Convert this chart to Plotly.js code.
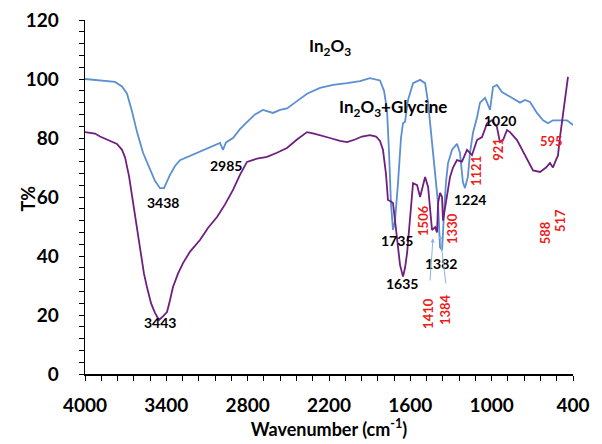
<!DOCTYPE html>
<html>
<head>
<meta charset="utf-8">
<script src="https://cdn.plot.ly/plotly-3.0.1.min.js"></script>
<style>html,body{margin:0;padding:0;background:#fff;}#chart{width:602px;height:444px;}</style>
</head>
<body>
<div id="chart"></div>
<script>
// In2O3 spectrum
const blueWn = [4000,3889,3779,3727,3690,3653,3616,3572,3520,3484,3447,3417,3373,3336,3299,3225,3152,3078,3004,2982,2960,2908,2857,2805,2746,2687,2613,2561,2510,2436,2362,2266,2170,2067,1971,1898,1824,1794,1772,1757,1743,1728,1713,1691,1669,1654,1639,1617,1580,1528,1491,1469,1440,1410,1396,1381,1366,1351,1337,1322,1292,1256,1234,1212,1197,1175,1160,1138,1108,1086,1049,1034,1012,990,961,924,887,843,791,754,717,666,621,584,548,496,444,400];
const blueT  = [100,99.5,99,97.5,95,89,82,75,69,65.5,63,63,67.5,70.5,72.5,74,75.5,77,78.3,76,78.5,80,83,85.4,88,89.5,88.5,89.5,90,92.5,95,97,98,98.6,99.3,100.3,99.5,96,89.5,75,58,48.8,52,64.7,80,85,85.5,92.9,98.6,99.7,98.6,92,78.3,65,58,43,42,55,65,71.5,76,78,75,65,63,67,75,81.7,87,92,93.6,92,89.5,97.3,98,95.6,94.6,93.6,92,92.9,92.2,88.5,86,85,86,86,86,84.4];
// In2O3 + Glycine spectrum
const purpleWn = [4000,3926,3889,3816,3764,3727,3705,3675,3646,3616,3594,3565,3543,3513,3484,3454,3425,3395,3373,3351,3314,3277,3225,3152,3093,3026,2967,2908,2857,2805,2731,2657,2584,2510,2436,2362,2310,2266,2193,2119,2067,2008,1957,1898,1853,1824,1802,1780,1765,1743,1728,1713,1691,1676,1654,1639,1624,1602,1580,1550,1528,1491,1469,1440,1417,1403,1395,1381,1366,1359,1329,1307,1285,1256,1219,1182,1145,1108,1071,1034,998,961,939,916,887,865,813,776,739,695,643,599,570,548,526,511,496,474,459,437];
const purpleT  = [82,81.5,80.5,79,78,76,73.5,67,58,49,43,34,29.5,24,20.7,18.3,19.5,21,25,29.5,34,37.6,41.5,45.4,49.5,53.2,57.5,62.4,67.5,71.9,73,73.6,75,76.6,79.5,82,81.5,81,80,79,78.6,79.5,80.5,81,80.5,79,76,68,59,58.5,58,52,43,37,33,36,41,53,64.7,64,60,66.8,63.4,48.8,49.8,48,58,61.4,60,52,60,66.8,70,72.5,72,76,74.2,79.3,80.3,85,86,83.7,78.6,79.3,82.7,82,79.3,76,73,69,68.5,70,71.5,70,72.5,74,80.3,88,94,100.7];

const seriesNames = ['In<sub>2</sub>O<sub>3</sub>', 'In<sub>2</sub>O<sub>3</sub>+Glycine'];
const xTickVals = [4000,3400,2800,2200,1600,1000,400];
const yTickVals = [0,20,40,60,80,100,120];

// peak labels (black, horizontal)
const blackLabels = ['3438','3443','2985','1735','1635','1382','1224','1020'];
const blackLabelWn = [3425,3447,2960,1698,1661,1374,1160,939];
const blackLabelT = [58.3,17.3,70.8,45.4,30.8,37.3,59,85.8];
// peak labels (red, vertical)
const redLabels = ['1506','1330','1121','921','1410','1384','588','517'];
const redLabelWn = [1507,1293,1116,953,1470,1344,607,496];
const redLabelT = [52.2,49.5,68.8,76,20.7,21.7,48,52.2];

const FONT = 'Lato, "Open Sans", "Liberation Sans", sans-serif';
const BLUE = '#5b8fd2';
const PURPLE = '#6f1f7f';
const RED = '#ee1c1c';

const traces = [
  {x: blueWn, y: blueT, type: 'scatter', mode: 'lines', name: seriesNames[0], line: {color: BLUE, width: 1.8}},
  {x: purpleWn, y: purpleT, type: 'scatter', mode: 'lines', name: seriesNames[1], line: {color: PURPLE, width: 1.8}}
];

const annotations = [];
annotations.push({x: 2193, y: 110.8, text: seriesNames[0], showarrow: false, font: {family: FONT, size: 17, color: '#000', weight: 'bold'}});
annotations.push({x: 1728, y: 90.2, text: seriesNames[1], showarrow: false, font: {family: FONT, size: 17, color: '#000', weight: 'bold'}});
blackLabels.forEach((t, i) => annotations.push({x: blackLabelWn[i], y: blackLabelT[i], text: t, showarrow: false, font: {family: FONT, size: 14, color: '#000', weight: 'bold'}}));
redLabels.forEach((t, i) => annotations.push({x: redLabelWn[i], y: redLabelT[i], text: t, textangle: -90, showarrow: false, font: {family: FONT, size: 13, color: RED, weight: 'bold'}}));
annotations.push({x: 555, y: 79, text: '595', showarrow: false, font: {family: FONT, size: 13, color: RED, weight: 'bold'}});
// arrows from 1410 / 1384 labels
annotations.push({x: 1433, y: 46, ax: 1455, ay: 31.2, axref: 'x', ayref: 'y', text: '', showarrow: true, arrowhead: 2, arrowsize: 0.8, arrowwidth: 1, arrowcolor: '#8fb0dc'});
annotations.push({x: 1381, y: 47.1, ax: 1337, ay: 30.2, axref: 'x', ayref: 'y', text: '', showarrow: true, arrowhead: 2, arrowsize: 0.8, arrowwidth: 1, arrowcolor: '#8fb0dc'});
// y-axis title (placed close to the tick labels, as in the reference)
annotations.push({xref: 'paper', x: 0, xanchor: 'center', xshift: -57, yref: 'y', y: 59.5, yanchor: 'middle', text: 'T%', textangle: -90, showarrow: false, font: {family: FONT, size: 18, color: '#000', weight: 'bold'}});

const layout = {
  width: 602, height: 444,
  margin: {l: 85, r: 29, t: 20, b: 70},
  paper_bgcolor: '#fff', plot_bgcolor: '#fff',
  showlegend: false,
  font: {family: FONT, color: '#000'},
  xaxis: {
    range: [4000, 400], autorange: false,
    tickvals: xTickVals, ticks: 'outside', ticklen: 5, tickwidth: 1, tickcolor: '#000',
    ticklabelstandoff: 9,
    minor: {dtick: 120, tick0: 400, ticks: 'outside', ticklen: 5, tickwidth: 1, tickcolor: '#000'},
    showline: true, linecolor: '#000', linewidth: 1.5,
    showgrid: false, zeroline: false,
    tickfont: {family: FONT, size: 19, weight: 'bold', color: '#000'},
    title: {text: 'Wavenumber (cm<sup>-1</sup>)', font: {family: FONT, size: 18, weight: 'bold', color: '#000'}, standoff: 6}
  },
  yaxis: {
    range: [0, 120], autorange: false,
    tickvals: yTickVals, ticks: 'outside', ticklen: 5, tickwidth: 1, tickcolor: '#000',
    ticklabelstandoff: 16,
    minor: {dtick: 4, tick0: 0, ticks: 'outside', ticklen: 5, tickwidth: 1, tickcolor: '#000'},
    showline: true, linecolor: '#000', linewidth: 1.5,
    showgrid: false, zeroline: false,
    tickfont: {family: FONT, size: 19, weight: 'bold', color: '#000'}
  },
  annotations: annotations
};

Plotly.newPlot('chart', traces, layout, {staticPlot: true, displayModeBar: false});
</script>
</body>
</html>
